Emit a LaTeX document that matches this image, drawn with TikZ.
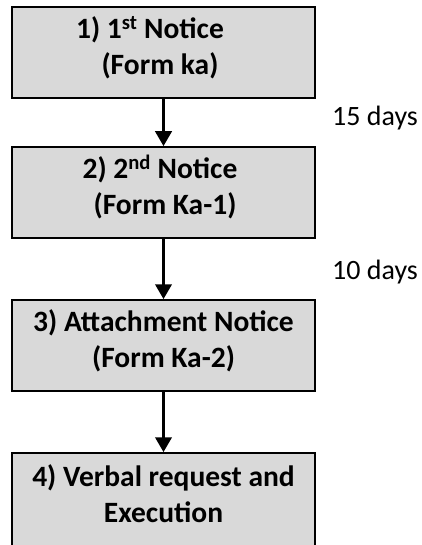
\documentclass[tikz,border=0pt]{standalone}
\usepackage{fontspec}
\setmainfont{Carlito}
\usetikzlibrary{arrows.meta}
\definecolor{boxfill}{HTML}{D9D9D9}
\tikzset{
  stepbox/.style={draw=black, line width=1.5pt, fill=boxfill, minimum width=303pt, minimum height=91pt, inner sep=0pt, align=center, text height=57pt, text depth=13pt, font=\fontsize{29.5}{36}\selectfont\bfseries},
  flowarrow/.style={line width=3.8pt, -{Triangle[width=16pt,length=15pt]}},
  daylabel/.style={anchor=base west, inner sep=0pt, font=\fontsize{28}{32}\selectfont}
}
\begin{document}
\begin{tikzpicture}[x=1pt,y=-1pt]
\useasboundingbox (0,0) rectangle (422,545);
\node[stepbox] (b1) at (163.5,52.5) {1) 1\textsuperscript{st} Notice\hspace*{27pt}\\(Form ka)\hspace*{7pt}};
\node[stepbox] (b2) at (163.5,192.5) {2) 2\textsuperscript{nd} Notice\hspace*{7pt}\\\hspace*{3pt}(Form Ka-1)};
\node[stepbox] (b3) at (163.5,345.5) {3) Attachment Notice\\(Form Ka-2)};
\node[stepbox, minimum height=95pt] (b4) at (163.5,500.5) {4) Verbal request and\\Execution};
\draw[flowarrow] (b1) -- (b2);
\draw[flowarrow] (b2) -- (b3);
\draw[flowarrow] (b3) -- (b4);
\node[daylabel] (d1) at (332,126) {15 days};
\node[daylabel] (d2) at (332,279) {10 days};
\end{tikzpicture}
\end{document}
